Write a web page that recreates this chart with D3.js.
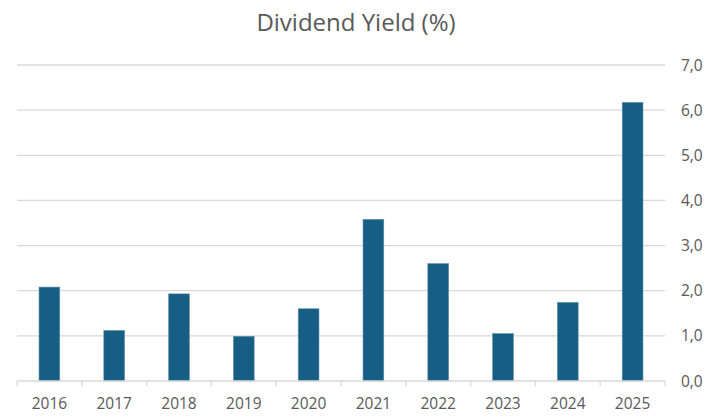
<!DOCTYPE html>
<html>
<head>
<meta charset="utf-8">
<script src="https://cdn.jsdelivr.net/npm/d3@7"></script>
<style>
  body { margin: 0; background: #fff; }
  text { font-family: "Open Sans", "Noto Sans", sans-serif; fill: #595959; }
</style>
</head>
<body>
<div id="chart"></div>
<script>
const years = ['2016', '2017', '2018', '2019', '2020', '2021', '2022', '2023', '2024', '2025'];
const yieldValues = [2.08, 1.12, 1.93, 0.99, 1.60, 3.58, 2.60, 1.05, 1.74, 6.17];
const yTicks = [0, 1, 2, 3, 4, 5, 6, 7];

const width = 711;
const height = 418;
const margin = { top: 65, right: 46, bottom: 37, left: 17 };

const svg = d3.select('#chart')
  .append('svg')
  .attr('width', width)
  .attr('height', height);

const x = d3.scaleBand()
  .domain(years)
  .range([margin.left, width - margin.right])
  .paddingInner(0.68)
  .paddingOuter(0.34);

const y = d3.scaleLinear()
  .domain([0, 7])
  .range([height - margin.bottom, margin.top]);

// title
svg.append('text')
  .attr('x', 356)
  .attr('y', 31)
  .attr('text-anchor', 'middle')
  .style('font-size', '24px')
  .text('Dividend Yield (%)');

// gridlines
svg.append('g')
  .selectAll('line')
  .data(yTicks.filter(d => d > 0))
  .enter()
  .append('line')
  .attr('x1', margin.left)
  .attr('x2', width - margin.right)
  .attr('y1', d => y(d))
  .attr('y2', d => y(d))
  .attr('stroke', '#d9d9d9')
  .attr('stroke-width', 1.3);

// bars
svg.append('g')
  .selectAll('rect')
  .data(yieldValues)
  .enter()
  .append('rect')
  .attr('x', (d, i) => x(years[i]))
  .attr('width', x.bandwidth())
  .attr('y', d => y(d))
  .attr('height', d => y(0) - y(d))
  .attr('fill', '#165e83')
  .attr('stroke', '#5b8fab')
  .attr('stroke-width', 0.6);

// x axis: baseline and ticks at band edges
const edges = d3.range(years.length + 1).map(i => margin.left + i * (width - margin.left - margin.right) / years.length);
const xAxis = svg.append('g');
xAxis.append('line')
  .attr('x1', margin.left)
  .attr('x2', width - margin.right)
  .attr('y1', y(0))
  .attr('y2', y(0))
  .attr('stroke', '#d9d9d9')
  .attr('stroke-width', 1.3);
xAxis.selectAll('line.tick')
  .data(edges)
  .enter()
  .append('line')
  .attr('class', 'tick')
  .attr('x1', d => d)
  .attr('x2', d => d)
  .attr('y1', y(0))
  .attr('y2', y(0) + 5)
  .attr('stroke', '#d9d9d9')
  .attr('stroke-width', 1.3);
xAxis.selectAll('text')
  .data(years)
  .enter()
  .append('text')
  .attr('x', d => x(d) + x.bandwidth() / 2)
  .attr('y', y(0) + 28)
  .attr('text-anchor', 'middle')
  .style('font-size', '15.5px')
  .text(d => d);

// y axis labels on the right
svg.append('g')
  .selectAll('text')
  .data(yTicks)
  .enter()
  .append('text')
  .attr('x', 681)
  .attr('y', d => y(d) + 5.5)
  .attr('text-anchor', 'start')
  .style('font-size', '15.5px')
  .text(d => d3.format('.1f')(d).replace('.', ','));
</script>
</body>
</html>
